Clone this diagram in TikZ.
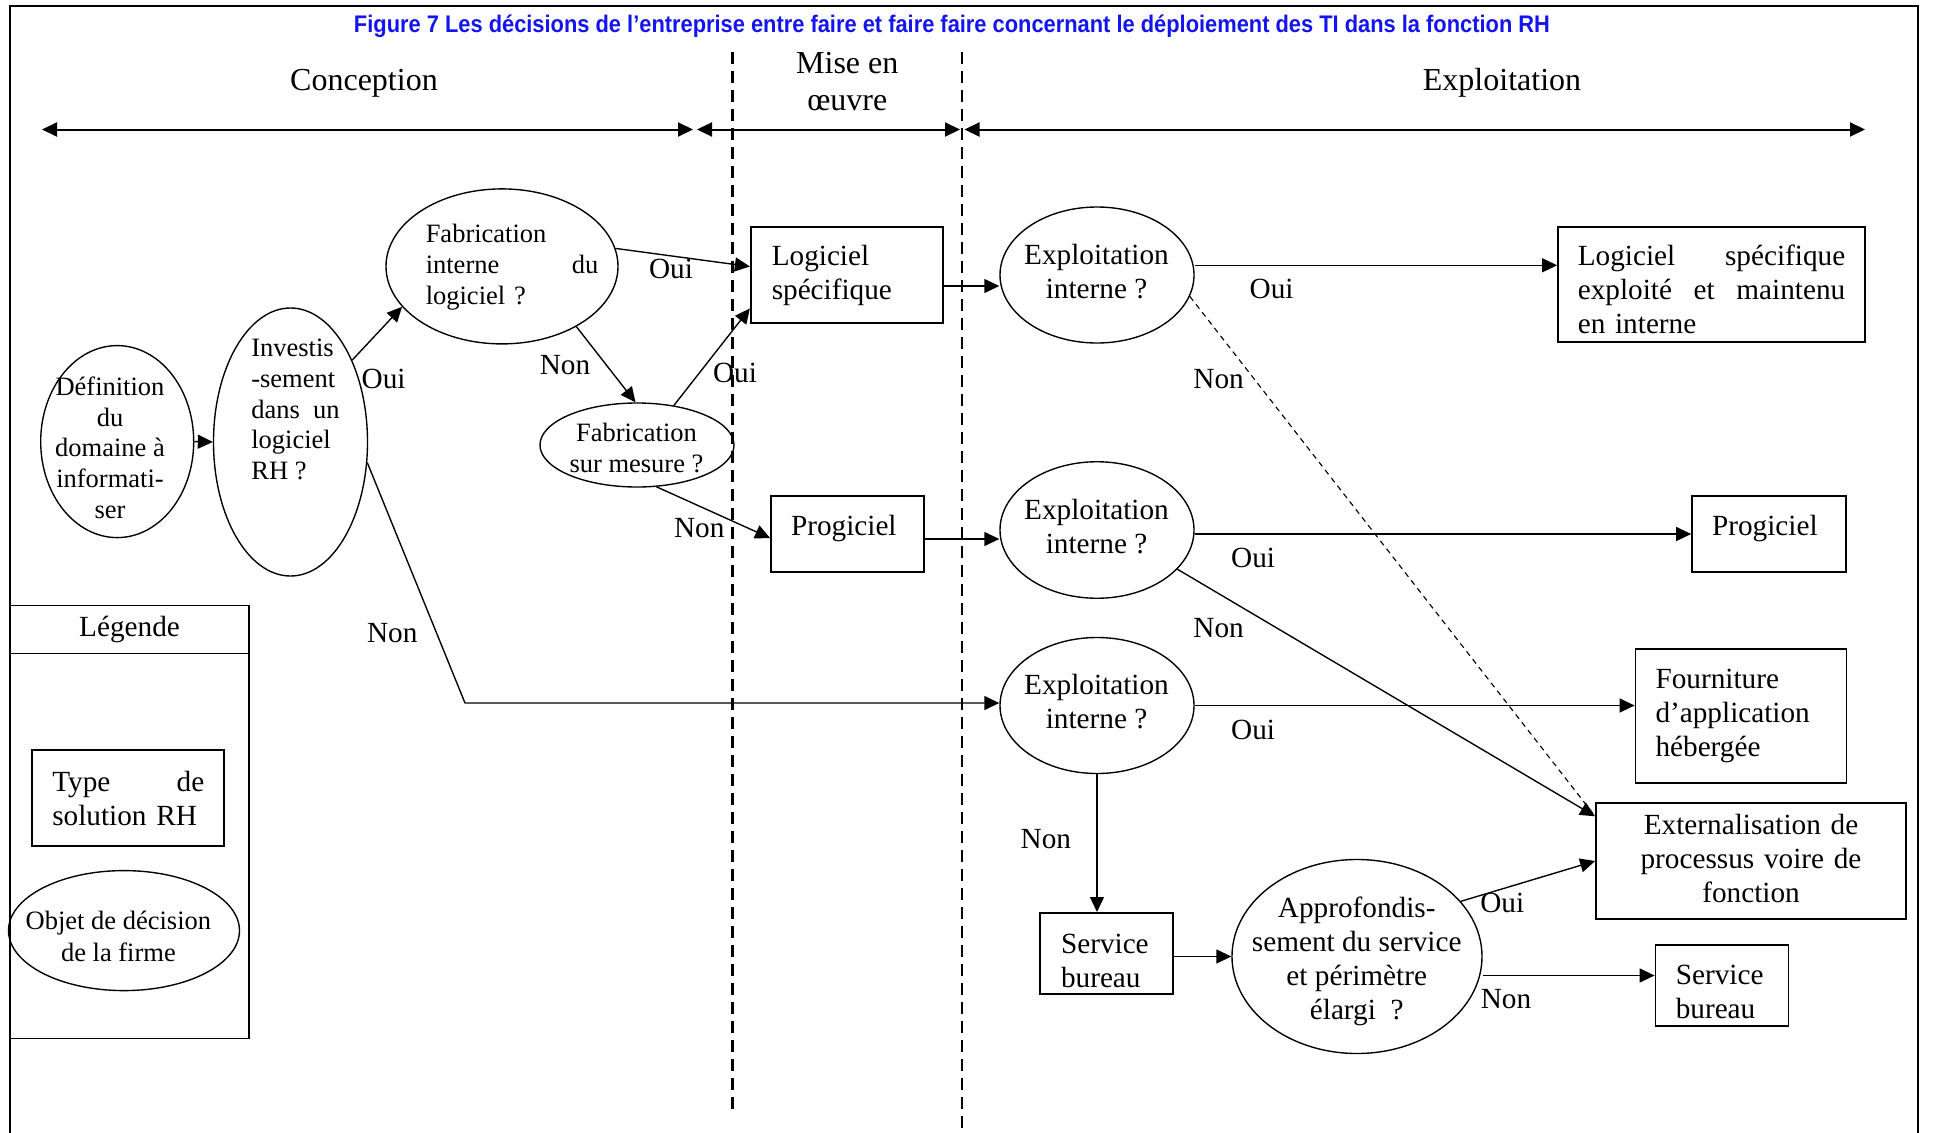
\documentclass[tikz,border=0pt]{standalone}
\usepackage{fontspec}
\setmainfont{Liberation Serif}
\newfontfamily\titlefont{Liberation Sans}
\usepackage{graphicx}
\usetikzlibrary{arrows.meta,shapes.geometric,calc}
\definecolor{titleblue}{RGB}{20,20,240}
\tikzset{
 base/.style={font=\fontsize{11.7}{13.6}\selectfont},
 small/.style={font=\fontsize{10.6}{12.3}\selectfont},
 ell/.style={ellipse, draw, line width=0.55pt, inner sep=0pt},
 txt/.style={base, align=center, inner sep=0pt},
 txtl/.style={base, align=left, inner sep=0pt},
 box/.style={rectangle, draw, line width=0.7pt, inner sep=0pt, base, align=left},
 lbl/.style={base, inner sep=0pt},
 arr/.style={-{Triangle[length=6pt,width=5.6pt]}, line width=0.55pt},
 dasharr/.style={line width=0.45pt, dash pattern=on 2.2pt off 1.8pt},
 sepline/.style={line width=1.1pt, dash pattern=on 4.8pt off 2.8pt},
 tl/.style={{Triangle[length=6pt,width=5.6pt]}-{Triangle[length=6pt,width=5.6pt]}, line width=0.8pt},
 phase/.style={font=\fontsize{12.8}{14.8}\selectfont, align=center, inner sep=0pt},
}
\begin{document}
\begin{tikzpicture}[x=0.4pt,y=-0.4pt]
\useasboundingbox (0,0) rectangle (1934,1133);
% frame
\draw[line width=0.9pt] (10,1133) -- (10,6) -- (1918,6) -- (1918,1133);
% title
\node[inner sep=0pt, text=titleblue, font=\titlefont\bfseries\fontsize{9.6}{11}\selectfont] (title) at (952,26)
 {\resizebox{478.4pt}{\height}{Figure 7 Les décisions de l’entreprise entre faire et faire faire concernant le déploiement des TI dans la fonction RH}};
% phases
\node[phase] (pconc) at (364,83) {Conception};
\node[phase] (pmise) at (847.3,81.4) {Mise en\\œuvre};
\node[phase] (pexpl) at (1502,83) {Exploitation};
\coordinate (t1) at (42,129.5); \coordinate (t2) at (693,129.5);
\coordinate (t3) at (697,129.5); \coordinate (t4) at (960,129.5);
\coordinate (t5) at (964.5,129.5); \coordinate (t6) at (1865,129.5);
\draw[tl] (t1) -- (t2);
\draw[tl] (t3) -- (t4);
\draw[tl] (t5) -- (t6);
\coordinate (s1a) at (732.6,52); \coordinate (s1b) at (732.6,1110);
\coordinate (s2a) at (962,52); \coordinate (s2b) at (962,1133);
\draw[sepline] (s1a) -- (s1b);
\draw[sepline] (s2a) -- (s2b);

% ellipses
\node[ell, minimum width=61.2pt, minimum height=76.8pt] (def) at (117.2,441.6) {};
\node[txt, small] (deft) at (110,447.7) {Définition\\du\\domaine à\\informati-\\ser};
\node[ell, minimum width=61.6pt, minimum height=107.2pt] (inv) at (290.5,442) {};
\node[txtl, small] (invt) at (295.5,409.5) {Investis\\-sement\\dans~ un\\logiciel\\RH ?};
\node[ell, minimum width=92.8pt, minimum height=62pt] (fabint) at (502,266.4) {};
\node[txtl, small, text width=69pt] (fabintt) at (512,267) {Fabrication\\interne\hfill du\\logiciel ?};
\node[ell, minimum width=77.6pt, minimum height=33.6pt] (fabmes) at (637,445) {};
\node[txt, small] (fabmest) at (636.5,448.3) {Fabrication\\sur mesure ?};
\node[ell, minimum width=77.6pt, minimum height=54.4pt] (exp1) at (1097,275) {};
\node[txt] (exp1t) at (1096.5,271.4) {Exploitation\\interne ?};
\node[ell, minimum width=77.6pt, minimum height=54.6pt] (exp2) at (1097,530) {};
\node[txt] (exp2t) at (1096.5,526.7) {Exploitation\\interne ?};
\node[ell, minimum width=77.6pt, minimum height=54.4pt] (exp3) at (1097,705.5) {};
\node[txt] (exp3t) at (1096.5,701.2) {Exploitation\\interne ?};
\node[ell, minimum width=100pt, minimum height=77.6pt] (approf) at (1357,956.5) {};
\node[txt] (approft) at (1356.7,961.4) {Approfondis-\\sement du service\\et périmètre\\élargi ~?};

% boxes
\node[box, minimum width=77pt, minimum height=38.4pt, text width=60.2pt] (logspec) at (847,275) {Logiciel\\spécifique};
\node[box, minimum width=61.2pt, minimum height=30.4pt, text width=45.2pt, text depth=7pt] (prog) at (847.5,534) {Progiciel};
\node[box, minimum width=122.8pt, minimum height=46pt, text width=107pt, text height=12pt] (lse) at (1711.5,284.3) {Logiciel\hfill spécifique\\exploité\hfill et\hfill maintenu\\en interne};
\node[box, minimum width=61.6pt, minimum height=30.4pt, text width=45.6pt, text depth=7pt] (prog2) at (1769,534) {Progiciel};
\node[box, minimum width=84.4pt, minimum height=53.6pt, text width=68.4pt] (fourn) at (1741,716) {Fourniture\\d’application\\hébergée};
\node[box, minimum width=124pt, minimum height=46.4pt, text width=110pt, align=center, text depth=29.6pt] (ext) at (1751,861) {Externalisation de\\processus voire de\\fonction};
\node[box, minimum width=53.2pt, minimum height=32.4pt, text width=36.4pt, text height=14pt] (sbl) at (1106.5,953.4) {Service\\bureau};
\node[box, minimum width=53.2pt, minimum height=32.4pt, text width=37pt, text height=13pt] (sbr) at (1722,985.5) {Service\\bureau};

% legend
\node[box, minimum width=95.6pt, minimum height=173.2pt] (leg) at (129.5,822) {};
\node[box, minimum width=95.6pt, minimum height=19.2pt, align=center] (legh) at (129.5,629.6) {Légende};
\node[box, minimum width=76.8pt, minimum height=38.4pt, text width=60.8pt] (legbox) at (128.3,798) {Type\hfill de\\solution RH};
\node[ell, minimum width=92.4pt, minimum height=48pt] (legell) at (124,930.6) {};
\node[txt, font=\fontsize{10.6}{12.8}\selectfont] (legellt) at (118.4,936) {Objet de décision\\de la firme};

% connectors
\draw[arr] (def.east) -- (inv.west);
\draw[arr] (inv.53) -- (fabint.202);
\draw[arr] (fabint.9.2) -- (logspec.175);
\draw[arr] (fabint.321.8) -- (fabmes.92.4);
\draw[arr] (fabmes.47.9) -- (logspec.199.2);
\draw[arr] (fabmes.295) -- (prog.183.7);
\coordinate (bend) at (465,703);
\draw[arr] (inv.345) -- (bend) -- (bend -| exp3.west);
\coordinate (k0) at ($(exp1.west)+(0,11)$);
\draw[arr] (logspec.east |- k0) -- (k0);
\coordinate (k2) at ($(exp2.west)+(0,9)$);
\draw[arr] (prog.east |- k2) -- (k2);
\coordinate (k1) at ($(lse.west)+(0,-19)$);
\draw[arr] (exp1.east |- k1) -- (k1);
\draw[dasharr] (exp1.347.3) -- (ext.164.5);
\draw[arr] (exp2.east |- prog2.west) -- (prog2.west);
\draw[arr] (exp2.334.1) -- (ext.164.5);
\draw[arr] (exp3.east) -- (exp3.east -| fourn.west);
\draw[arr] (exp3.south) -- (exp3.south |- sbl.north);
\draw[arr] (approf.west -| sbl.east) -- (approf.west);
\draw[arr] (approf.28.8) -- (ext.west);
\coordinate (k3) at ($(sbr.west)+(0,-10)$);
\draw[arr] (approf.east |- k3) -- (k3);

% labels
\node[lbl] (la) at (383.6,378.6) {Oui};
\node[lbl] (lb) at (671,268.9) {Oui};
\node[lbl] (lc) at (565,365) {Non};
\node[lbl] (ld) at (735,372.5) {Oui};
\node[lbl] (le) at (699.3,528) {Non};
\node[lbl] (lf) at (392.2,632.7) {Non};
\node[lbl] (lg) at (1271.6,288.6) {Oui};
\node[lbl] (lh) at (1218.6,378.7) {Non};
\node[lbl] (li) at (1253.1,557.5) {Oui};
\node[lbl] (lj) at (1218.6,627.8) {Non};
\node[lbl] (lk) at (1253.1,730.2) {Oui};
\node[lbl] (ll) at (1045.9,838.7) {Non};
\node[lbl] (lm) at (1502.3,902.9) {Oui};
\node[lbl] (ln) at (1506,999) {Non};
\end{tikzpicture}
\end{document}
